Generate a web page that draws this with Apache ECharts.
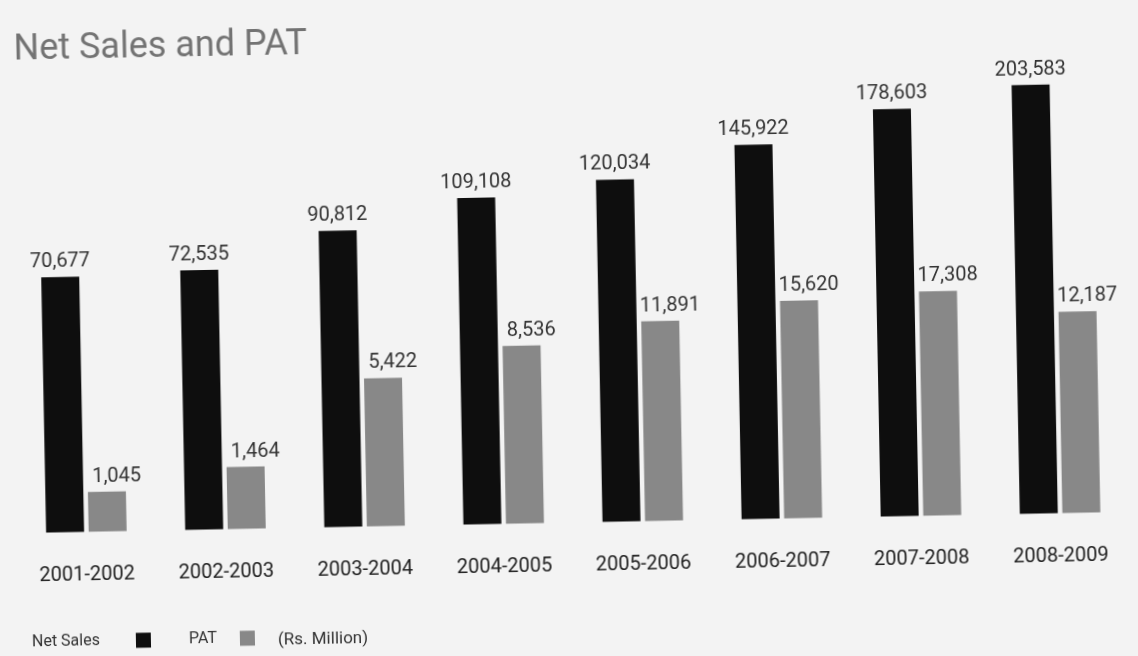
<!DOCTYPE html>
<html>
<head>
<meta charset="utf-8">
<script src="https://cdn.jsdelivr.net/npm/echarts@6/dist/echarts.min.js"></script>
<style>
  html, body { margin: 0; padding: 0; background: #f3f3f3; }
  /* the source is a slightly tilted scan */
  #chart { width: 1138px; height: 656px; transform: rotate(-1.1deg); }
</style>
</head>
<body>
<div id="chart"></div>
<script>
// values in Rs. Million
const years = ['2001-2002', '2002-2003', '2003-2004', '2004-2005', '2005-2006', '2006-2007', '2007-2008', '2008-2009'];
const netSales = [70677, 72535, 90812, 109108, 120034, 145922, 178603, 203583];
const pat = [1045, 1464, 5422, 8536, 11891, 15620, 17308, 12187];

const FONT = 'Roboto, "Liberation Sans", sans-serif';

const chart = echarts.init(document.getElementById('chart'));

function fmt(p) {
    return p.value.toLocaleString('en-US');
}

const option = {
    animation: false,
    backgroundColor: 'transparent',
    title: {
        text: 'Net Sales and PAT',
        left: 14,
        top: 17,
        textStyle: { fontFamily: FONT, fontSize: 36, fontWeight: 'normal', color: '#737373' }
    },
    legend: {
        left: 21,
        top: 619,
        align: 'right',
        itemGap: 38,
        itemWidth: 15,
        itemHeight: 15,
        icon: 'rect',
        selectedMode: false,
        data: ['Net Sales', 'PAT'],
        formatter: function (name) {
            return name === 'Net Sales' ? '{a|' + name + '}' : '{b|' + name + '}';
        },
        textStyle: {
            fontFamily: FONT, fontSize: 16, color: '#333',
            rich: {
                a: { width: 99, align: 'left', fontFamily: FONT, fontSize: 16, color: '#333' },
                b: { width: 46, align: 'left', fontFamily: FONT, fontSize: 16, color: '#333' }
            }
        }
    },
    graphic: [{
        type: 'text',
        left: 272,
        top: 626,
        style: { text: '(Rs. Million)', font: '17px ' + FONT, fill: '#333' }
    }],
    grid: { left: 13, right: 12, top: 40, bottom: 133.5 },
    xAxis: {
        type: 'category',
        data: years,
        axisLine: { show: false },
        axisTick: { show: false },
        axisLabel: { interval: 0, margin: 33, fontFamily: FONT, fontSize: 20, color: '#222' }
    },
    yAxis: [
        { type: 'log', show: false, min: 14940, max: 282300, startValue: 14940, splitLine: { show: false } },
        { type: 'log', show: false, min: 570, max: 880000, startValue: 570, splitLine: { show: false } }
    ],
    series: [
        {
            name: 'Net Sales',
            type: 'bar',
            data: netSales,
            barWidth: 38,
            barGap: '12%',
            itemStyle: { color: '#0e0e0e' },
            label: { show: true, position: 'top', distance: 5, formatter: fmt, fontFamily: FONT, fontSize: 20, color: '#333' }
        },
        {
            name: 'PAT',
            type: 'bar',
            yAxisIndex: 1,
            data: pat,
            barWidth: 38,
            itemStyle: { color: '#888888' },
            label: { show: true, position: 'top', distance: 5, offset: [10, 0], formatter: fmt, fontFamily: FONT, fontSize: 20, color: '#333' }
        }
    ]
};

option && chart.setOption(option);
</script>
</body>
</html>
